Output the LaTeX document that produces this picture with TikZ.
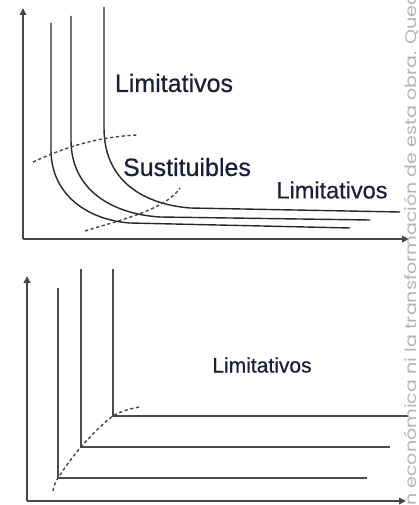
\documentclass[tikz,border=0pt]{standalone}
\usepackage{fontspec}
\setmainfont{Liberation Sans}
\newfontfamily\lblfont[FakeBold=0.6]{Liberation Sans}
\newfontfamily\wmfont[FakeStretch=1.23]{Poppins}
\usetikzlibrary{arrows.meta}
\definecolor{ink}{RGB}{28,30,58}
\definecolor{axiscol}{RGB}{70,70,70}
\definecolor{curvecol}{RGB}{40,40,40}
\definecolor{lcol}{RGB}{75,75,75}
\definecolor{wmcol}{RGB}{180,180,180}
\tikzset{
  axisline/.style={draw=axiscol, line width=1.9pt, -{Triangle[length=7pt,width=6.5pt]}},
  icurve/.style={draw=curvecol, line width=1.4pt},
  lshape/.style={draw=lcol, line width=2.8pt},
  dashline/.style={draw=axiscol, line width=1.4pt, dash pattern=on 3.2pt off 2.6pt},
  lbl/.style={text=ink, inner sep=0pt},
  wmtext/.style={text=wmcol, font=\wmfont\fontsize{15.5}{18}\selectfont, inner sep=0pt}
}
\begin{document}
\begin{tikzpicture}[x=1pt,y=-1pt]
\useasboundingbox (0,0) rectangle (418,505);
% ---------- top graph ----------
\coordinate (o1) at (23,239);
\coordinate (y1) at (23,8);
\coordinate (x1) at (409,239);
\draw[axisline] (o1) -- (y1);
\draw[axisline] (o1) -- (x1);
\draw[icurve] (51,23) -- (51,150) .. controls (51,195) and (88,220) .. (130,223) -- (350,228);
\draw[icurve] (71,16) -- (71,140) .. controls (71,190) and (112,214) .. (160,217) -- (370,220);
\draw[icurve] (104,7) -- (104,128) .. controls (104,180) and (142,204) .. (190,208) -- (400,212);
\draw[dashline] (33,162) .. controls (70,145) and (100,137) .. (137,135);
\draw[dashline] (85,231) .. controls (120,220) and (165,210) .. (180,188);
\node[lbl, font=\lblfont\fontsize{25}{29}\selectfont] (lim1) at (174,83) {Limitativos};
\node[lbl, font=\lblfont\fontsize{25}{29}\selectfont] (sus) at (187,167) {Sustituibles};
\node[lbl, font=\lblfont\fontsize{23.5}{27}\selectfont] (lim2) at (332,190) {Limitativos};
% ---------- bottom graph ----------
\coordinate (o2) at (27,501);
\coordinate (y2) at (27,276);
\coordinate (x2) at (406,501);
\draw[axisline] (o2) -- (y2);
\draw[axisline] (o2) -- (x2);
\draw[lshape] (58,288) -- (58,478) -- (367,478);
\draw[lshape] (81,269) -- (81,447) -- (390,447);
\draw[lshape] (113,269) -- (113,416) -- (408,416);
\draw[dashline] plot[smooth, tension=0.6] coordinates {(53,491) (58,478) (81,447) (113,416) (140,407)};
\node[lbl, font=\lblfont\fontsize{21}{25}\selectfont] (lim3) at (262,365) {Limitativos};
% ---------- watermark ----------
\node[wmtext, rotate=90, anchor=base west] (wm) at (416.5,506) {n económica ni la transformación de esta obra. Queda};
\end{tikzpicture}
\end{document}
